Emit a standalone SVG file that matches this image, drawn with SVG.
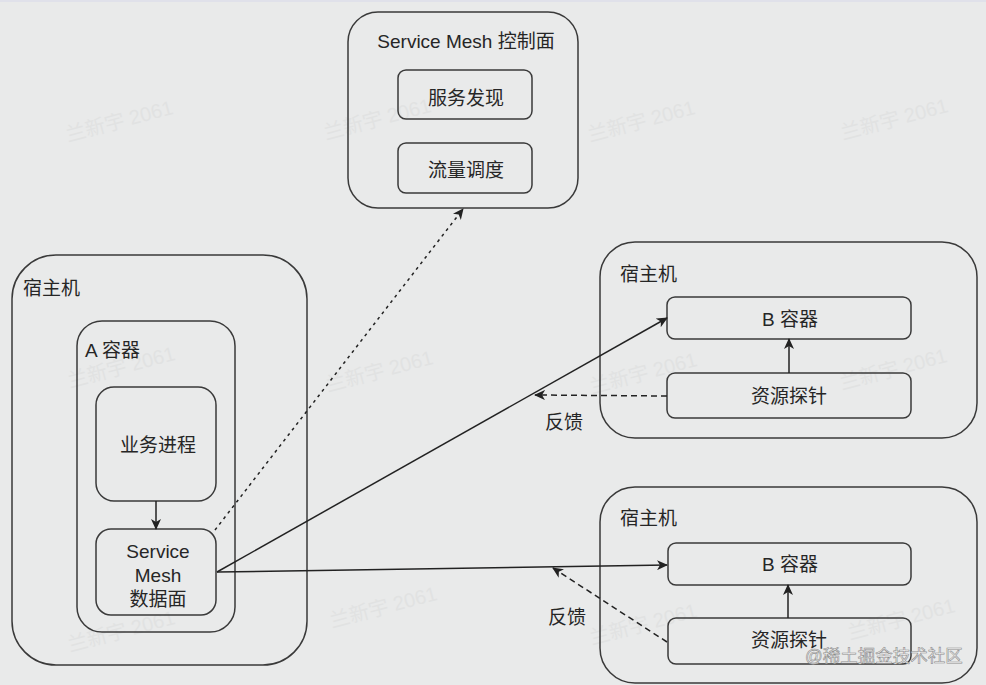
<svg xmlns="http://www.w3.org/2000/svg" width="986" height="685" viewBox="0 0 986 685">
<defs>
<style>
.box{fill:none;stroke:#3a3a3a;stroke-width:1.5}
.t{font-family:"Liberation Sans","Noto Sans CJK SC",sans-serif;font-size:19px;fill:#262626}
.c{text-anchor:middle}
.ln{fill:none;stroke:#222;stroke-width:1.5}
.dot{stroke-dasharray:3 4}
.dash{stroke-dasharray:6 4}
.wm{font-family:"Liberation Sans","Noto Sans CJK SC",sans-serif;font-size:20px;fill:#e1e2e2}
</style>
<marker id="arr" markerWidth="12" markerHeight="10" refX="10" refY="5" orient="auto" markerUnits="userSpaceOnUse">
<path d="M0,0 L11,5 L0,10 L3,5 Z" fill="#222"/>
</marker>
</defs>
<rect x="0" y="0" width="986" height="685" fill="#e9eaea"/>
<rect x="0" y="0" width="986" height="2" fill="#e0e1ea"/>

<g id="watermarks">
<text class="wm" transform="translate(68,142) rotate(-15)">兰新宇 2061</text>
<text class="wm" transform="translate(326,140) rotate(-15)">兰新宇 2061</text>
<text class="wm" transform="translate(590,142) rotate(-15)">兰新宇 2061</text>
<text class="wm" transform="translate(843,140) rotate(-15)">兰新宇 2061</text>
<text class="wm" transform="translate(70,388) rotate(-15)">兰新宇 2061</text>
<text class="wm" transform="translate(328,392) rotate(-15)">兰新宇 2061</text>
<text class="wm" transform="translate(592,394) rotate(-15)">兰新宇 2061</text>
<text class="wm" transform="translate(842,390) rotate(-15)">兰新宇 2061</text>
<text class="wm" transform="translate(70,652) rotate(-15)">兰新宇 2061</text>
<text class="wm" transform="translate(332,628) rotate(-15)">兰新宇 2061</text>
<text class="wm" transform="translate(592,645) rotate(-15)">兰新宇 2061</text>
<text class="wm" transform="translate(850,640) rotate(-15)">兰新宇 2061</text>
</g>

<g id="control-plane">
<rect class="box" x="348" y="12" width="230" height="196" rx="30"/>
<text class="t c" x="466" y="47.5">Service Mesh 控制面</text>
</g>
<g id="service-discovery">
<rect class="box" x="398" y="70" width="134" height="49" rx="8"/>
<text class="t c" x="466" y="104.5">服务发现</text>
</g>
<g id="traffic-scheduling">
<rect class="box" x="398" y="143" width="134" height="50" rx="8"/>
<text class="t c" x="466" y="177">流量调度</text>
</g>

<g id="host-a">
<rect class="box" x="12" y="255" width="295" height="410" rx="44"/>
<text class="t" x="23" y="294.5">宿主机</text>
</g>
<g id="container-a">
<rect class="box" x="77" y="321" width="158" height="311" rx="25"/>
<text class="t" x="85" y="357">A 容器</text>
</g>
<g id="business-process">
<rect class="box" x="96" y="387" width="120" height="114" rx="18"/>
<text class="t c" x="158" y="452">业务进程</text>
</g>
<g id="data-plane">
<rect class="box" x="96" y="529" width="120" height="86" rx="15"/>
<text class="t c" x="158" y="558">Service</text>
<text class="t c" x="158" y="582">Mesh</text>
<text class="t c" x="158" y="606">数据面</text>
</g>

<g id="host-b1">
<rect class="box" x="600" y="242" width="377" height="196" rx="35"/>
<text class="t" x="620" y="280.5">宿主机</text>
</g>
<g id="container-b1">
<rect class="box" x="667" y="297" width="244" height="42" rx="8"/>
<text class="t c" x="790" y="326">B 容器</text>
</g>
<g id="probe-b1">
<rect class="box" x="667" y="373" width="244" height="45" rx="8"/>
<text class="t c" x="789" y="403">资源探针</text>
</g>

<g id="host-b2">
<rect class="box" x="600" y="487" width="377" height="196" rx="35"/>
<text class="t" x="620" y="525">宿主机</text>
</g>
<g id="container-b2">
<rect class="box" x="668" y="543" width="243" height="42" rx="8"/>
<text class="t c" x="790" y="571">B 容器</text>
</g>
<g id="probe-b2">
<rect class="box" x="668" y="618" width="243" height="46" rx="8"/>
<text class="t c" x="789" y="647">资源探针</text>
</g>

<g id="connectors">
<line class="ln" x1="156" y1="501" x2="156" y2="529" marker-end="url(#arr)"/>
<line class="ln dot" x1="215" y1="530" x2="463" y2="209" marker-end="url(#arr)"/>
<line class="ln" x1="217" y1="572" x2="667" y2="318" marker-end="url(#arr)"/>
<line class="ln" x1="217" y1="572" x2="667" y2="565" marker-end="url(#arr)"/>
<line class="ln" x1="789" y1="373" x2="789" y2="339" marker-end="url(#arr)"/>
<line class="ln" x1="788" y1="618" x2="788" y2="585" marker-end="url(#arr)"/>
<line class="ln dash" x1="667" y1="396" x2="535" y2="395" marker-end="url(#arr)"/>
<line class="ln dash" x1="667" y1="642" x2="553" y2="568" marker-end="url(#arr)"/>
<text class="t c" x="564" y="429">反馈</text>
<text class="t c" x="567" y="624">反馈</text>
</g>

<text x="805" y="662" font-family="'Liberation Sans','Noto Sans CJK SC',sans-serif" font-size="17.5" fill="#f7f7f7" stroke="#8c8c8c" stroke-width="0.6">@稀土掘金技术社区</text>
</svg>
